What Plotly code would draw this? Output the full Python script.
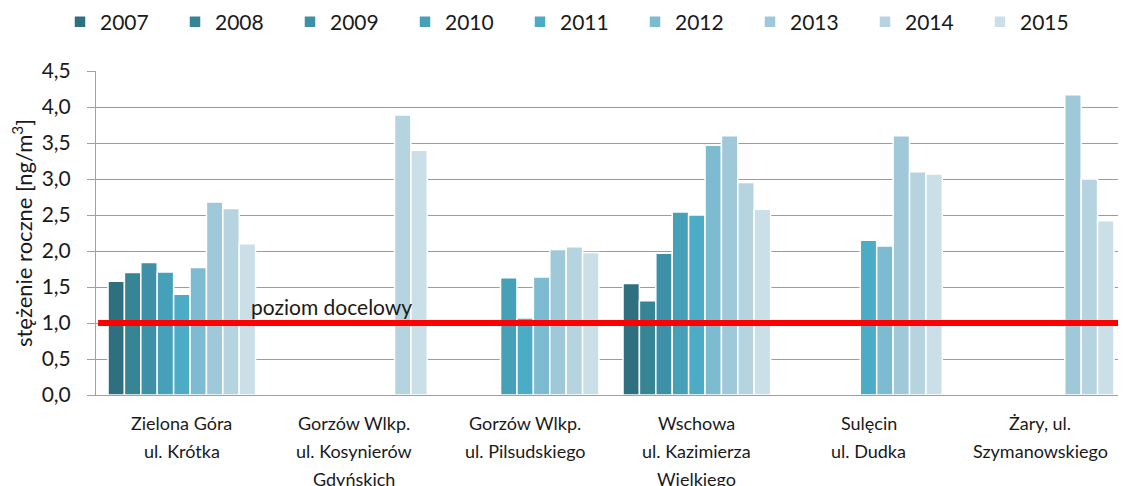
import plotly.graph_objects as go

categories = [
    "Zielona Góra<br>ul. Krótka",
    "Gorzów Wlkp.<br>ul. Kosynierów<br>Gdyńskich",
    "Gorzów Wlkp.<br>ul. Pilsudskiego",
    "Wschowa<br>ul. Kazimierza<br>Wielkiego",
    "Sulęcin<br>ul. Dudka",
    "Żary, ul.<br>Szymanowskiego",
]
years = ["2007", "2008", "2009", "2010", "2011", "2012", "2013", "2014", "2015"]

v2007 = [1.58, None, None, 1.55, None, None]
v2008 = [1.70, None, None, 1.31, None, None]
v2009 = [1.84, None, None, 1.97, None, None]
v2010 = [1.71, None, 1.63, 2.54, None, None]
v2011 = [1.40, None, 1.07, 2.50, 2.15, None]
v2012 = [1.77, None, 1.64, 3.47, 2.07, None]
v2013 = [2.68, None, 2.02, 3.60, 3.60, 4.17]
v2014 = [2.59, 3.89, 2.06, 2.95, 3.10, 3.00]
v2015 = [2.10, 3.40, 1.98, 2.58, 3.07, 2.42]
series = [v2007, v2008, v2009, v2010, v2011, v2012, v2013, v2014, v2015]

colors = ["#2f7080", "#378495", "#3e90a6", "#46a0b8", "#4cacc5",
          "#7dbbd0", "#9fc8d8", "#b5d4df", "#cbdfe8"]

target_value = 1.0
target_label = "poziom docelowy"
ytick_vals = [0, 0.5, 1, 1.5, 2, 2.5, 3, 3.5, 4, 4.5]
ytick_text = ["0,0", "0,5", "1,0", "1,5", "2,0", "2,5", "3,0", "3,5", "4,0", "4,5"]

FONT = "Lato"
TXT = "#1a1a1a"

# page body has an 8px margin, so the figure is 8px smaller than the window
W, H = 1118, 478
ML, MT, MR, MB = 88, 63, 0, 91
PW = W - ML - MR
PH = H - MT - MB

fig = go.Figure()
xs = list(range(len(categories)))
for yr, vals, col in zip(years, series, colors):
    fig.add_trace(go.Bar(
        x=xs, y=vals, name=yr,
        marker=dict(color=col, line=dict(color="white", width=1.5)),
    ))

fig.add_shape(type="line", xref="paper", yref="y", x0=0.002, x1=1,
              y0=target_value, y1=target_value,
              line=dict(color="#ff0000", width=6), layer="above")
fig.add_annotation(x=0.39, y=target_value, xref="x", yref="y",
                   text=target_label, showarrow=False, xanchor="left",
                   yanchor="bottom", yshift=2,
                   font=dict(family=FONT, size=21, color=TXT))

# category labels (multi-line, Excel-like line spacing)
for i, cat in enumerate(categories):
    for j, line in enumerate(cat.split("<br>")):
        fig.add_annotation(x=i, y=0, xref="x", yref="paper", text=line,
                           showarrow=False, xanchor="center", yanchor="middle",
                           yshift=-28 - 28 * j,
                           font=dict(family=FONT, size=18, color=TXT))

fig.update_layout(
    width=W, height=H,
    margin=dict(l=ML, r=MR, t=MT, b=MB, autoexpand=False),
    plot_bgcolor="white", paper_bgcolor="white",
    barmode="group", bargap=0.14, bargroupgap=0,
    font=dict(family=FONT, color=TXT),
    legend=dict(orientation="h", xref="paper", yref="paper",
                x=(52 - ML) / PW, y=(H - MB - 14) / PH,
                xanchor="left", yanchor="middle",
                entrywidth=70, entrywidthmode="pixels",
                font=dict(family=FONT, size=21, color=TXT),
                itemclick=False),
    xaxis=dict(range=[-0.5, 5.5], tickvals=xs, ticktext=[""] * len(xs),
               showgrid=False, showline=True, linecolor="#a0a0a0",
               linewidth=1, ticks="", zeroline=False),
    yaxis=dict(range=[0, 4.5], tickvals=ytick_vals, ticktext=ytick_text,
               showgrid=True, gridcolor="#9c9c9c", gridwidth=1,
               showline=True, linecolor="#a0a0a0", linewidth=1,
               ticks="outside", ticklen=8, tickcolor="#a0a0a0",
               ticklabelstandoff=12,
               tickfont=dict(family=FONT, size=21, color=TXT),
               zeroline=False,
               title=dict(text="stężenie roczne [ng/m<sup>3</sup>]",
                          font=dict(family=FONT, size=22, color=TXT),
                          standoff=2)),
)

fig.write_html("out.html")
